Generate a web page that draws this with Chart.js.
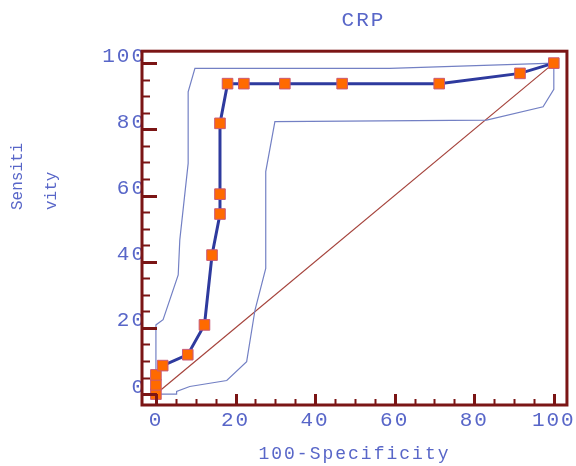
<!DOCTYPE html>
<html>
<head>
<meta charset="utf-8">
<script src="https://cdn.jsdelivr.net/npm/chart.js@4/dist/chart.umd.min.js"></script>
<style>
  html, body { margin: 0; padding: 0; background: #ffffff; }
  #wrap { width: 576px; height: 466px; }
</style>
</head>
<body>
<div id="wrap"><canvas id="c" width="576" height="466"></canvas></div>
<script>
// ---- data ----
const chartTitle = 'CRP';
const xAxisTitle = '100-Specificity';
const yAxisTitleLines = ['Sensiti', 'vity'];

const xTickValues = [0, 20, 40, 60, 80, 100];
const xTickLabels = ['0', '20', '40', '60', '80', '100'];
const yTickValues = [0, 20, 40, 60, 80, 100];
const yTickLabels = ['0', '20', '40', '60', '80', '100'];

// ROC curve points (100-Specificity, Sensitivity)
const rocX = [0, 0, 0, 1.7, 8.0, 12.2, 14.1, 16.1, 16.1, 16.1, 18.0, 22.1, 32.4, 46.8, 71.2, 91.5, 100];
const rocY = [0, 2.8, 5.8, 8.6, 11.9, 20.9, 42.0, 54.4, 60.4, 81.8, 93.8, 93.8, 93.8, 93.8, 93.8, 96.9, 100];

// Upper confidence bound
const upperX = [0, 0, 1.8, 5.6, 6.0, 8.1, 8.1, 9.8, 58.8, 100];
const upperY = [0, 20.9, 22.5, 36.0, 46.6, 69.7, 91.3, 98.4, 98.4, 100];

// Lower confidence bound
const lowerX = [0, 5.2, 5.2, 8.5, 17.8, 22.8, 24.9, 27.6, 27.6, 29.9, 83.1, 97.3, 100, 100];
const lowerY = [0, 0, 0.8, 2.3, 4.1, 9.8, 25.4, 38.0, 67.2, 82.3, 82.8, 86.8, 92.1, 100];

// Reference diagonal
const diagX = [0, 100];
const diagY = [0, 100];

// ---- helpers ----
const toPoints = (xs, ys) => xs.map((x, i) => ({ x: x, y: ys[i] }));

const TEXT = '#5866c8';
const FRAME = '#7b1515';
const FONT = "'Liberation Mono', 'DejaVu Sans Mono', monospace";

// Frame + inward tick marks drawn through the chart scales
const framePlugin = {
  id: 'frame',
  afterLayout(chart) {
    const t = chart.titleBlock;
    if (t) { t.left += 9; t.right += 9; }
  },
  beforeDraw(chart) {
    chart.ctx.letterSpacing = '2px';
  },
  afterDatasetsDraw(chart) {
    const { ctx, chartArea: a, scales } = chart;
    const xs = scales.x, ys = scales.y;
    ctx.save();
    ctx.strokeStyle = FRAME;
    ctx.lineCap = 'butt';
    for (let v = 0; v <= 100; v += 5) {
      const major = v % 20 === 0;
      const px = Math.round(xs.getPixelForValue(v)) + 0.5;
      ctx.lineWidth = major ? 3 : 2;
      ctx.beginPath();
      ctx.moveTo(px, a.bottom);
      ctx.lineTo(px, a.bottom - (major ? 11 : 6));
      ctx.stroke();
    }
    for (let v = 0; v <= 100; v += 5) {
      const major = v % 20 === 0;
      const py = Math.round(ys.getPixelForValue(v)) + 0.5;
      ctx.lineWidth = major ? 3 : 2;
      ctx.beginPath();
      ctx.moveTo(a.left, py);
      ctx.lineTo(a.left + (major ? 15 : 8), py);
      ctx.stroke();
    }
    ctx.lineWidth = 3;
    ctx.strokeRect(a.left, a.top, a.right - a.left, a.bottom - a.top);
    ctx.restore();
  },
  afterDraw(chart) {
    const { ctx } = chart;
    ctx.save();
    ctx.letterSpacing = '0px';
    ctx.fillStyle = TEXT;
    ctx.font = "16px " + FONT;
    ctx.textAlign = 'left';
    ctx.textBaseline = 'middle';
    const xs = [18, 52];
    yAxisTitleLines.forEach((t, i) => {
      ctx.save();
      ctx.translate(xs[i], 210);
      ctx.rotate(-Math.PI / 2);
      ctx.fillText(t, 0, 0);
      ctx.restore();
    });
    ctx.restore();
    ctx.letterSpacing = '0px';
  }
};

const ctx = document.getElementById('c').getContext('2d');
new Chart(ctx, {
  type: 'scatter',
  data: {
    datasets: [
      {
        label: 'ROC',
        data: toPoints(rocX, rocY),
        showLine: true,
        borderColor: '#2e3a9e',
        borderWidth: 3,
        pointStyle: 'rect',
        pointRadius: 7.5,
        pointBackgroundColor: '#ff6a00',
        pointBorderColor: '#c85a78',
        pointBorderWidth: 1,
        tension: 0
      },
      {
        label: 'Upper',
        data: toPoints(upperX, upperY),
        showLine: true,
        borderColor: '#7380c4',
        borderWidth: 1.2,
        pointRadius: 0,
        tension: 0
      },
      {
        label: 'Lower',
        data: toPoints(lowerX, lowerY),
        showLine: true,
        borderColor: '#7380c4',
        borderWidth: 1.2,
        pointRadius: 0,
        tension: 0
      },
      {
        label: 'Diagonal',
        data: toPoints(diagX, diagY),
        showLine: true,
        borderColor: '#a5433c',
        borderWidth: 1.2,
        pointRadius: 0,
        tension: 0
      }
    ]
  },
  options: {
    responsive: false,
    animation: false,
    events: [],
    layout: { padding: { left: 0, right: 9, top: 0, bottom: 0 } },
    plugins: {
      legend: { display: false },
      tooltip: { enabled: false },
      title: {
        display: true,
        text: chartTitle,
        fullSize: false,
        color: TEXT,
        font: { family: FONT, size: 21, weight: 'normal', lineHeight: 1.2 },
        padding: { top: 8, bottom: 18 }
      }
    },
    scales: {
      x: {
        type: 'linear',
        min: -3.5,
        max: 103.3,
        grid: { display: false, drawTicks: false },
        border: { display: false },
        afterBuildTicks(scale) { scale.ticks = xTickValues.map(v => ({ value: v })); },
        afterFit(scale) { scale.height = 61; },
        ticks: {
          color: TEXT,
          padding: 3,
          maxRotation: 0,
          autoSkip: false,
          font: { family: FONT, size: 21 },
          callback(value) { const i = xTickValues.indexOf(value); return i >= 0 ? xTickLabels[i] : ''; }
        },
        title: {
          display: true,
          text: xAxisTitle,
          color: TEXT,
          font: { family: FONT, size: 18, lineHeight: 1.2 },
          padding: { top: 0, bottom: 1 }
        }
      },
      y: {
        type: 'linear',
        min: -3.3,
        max: 103.6,
        grid: { display: false, drawTicks: false },
        border: { display: false },
        afterBuildTicks(scale) { scale.ticks = yTickValues.map(v => ({ value: v })); },
        afterFit(scale) { scale.width = 142; },
        ticks: {
          color: TEXT,
          padding: -4,
          labelOffset: -7,
          autoSkip: false,
          font: { family: FONT, size: 21 },
          callback(value) { const i = yTickValues.indexOf(value); return i >= 0 ? yTickLabels[i] : ''; }
        }
      }
    }
  },
  plugins: [framePlugin]
});
</script>
</body>
</html>
